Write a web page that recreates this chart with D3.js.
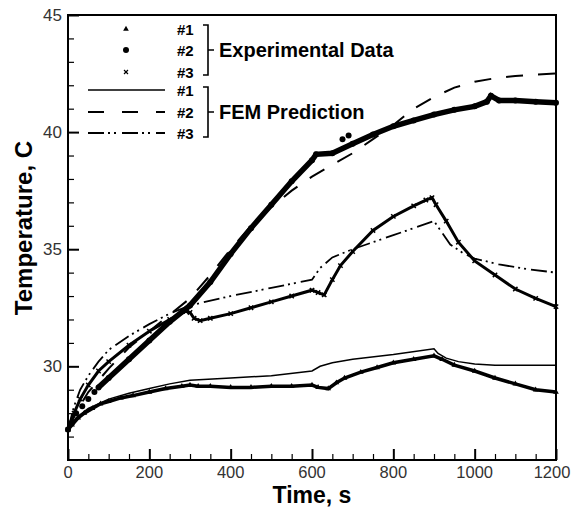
<!DOCTYPE html>
<html>
<head>
<meta charset="utf-8">
<script src="https://cdn.jsdelivr.net/npm/d3@7"></script>
<style>
  body { margin: 0; background: #fff; }
  text { font-family: Arial, "Liberation Sans", sans-serif; }
</style>
</head>
<body>
<script>
// data: [time s, temperature C]
var exp1 = [[0,27.3],[10,27.5],[25,27.8],[40,28.0],[60,28.2],[80,28.4],[100,28.5],[130,28.65],[160,28.75],[200,28.9],[240,29.05],[280,29.15],[300,29.2],[320,29.15],[350,29.15],[400,29.1],[450,29.1],[500,29.15],[550,29.15],[600,29.2],[615,29.1],[640,29.05],[660,29.3],[680,29.5],[720,29.75],[760,29.95],[800,30.15],[850,30.3],[900,30.45],[920,30.3],[950,30.05],[1000,29.8],[1050,29.5],[1100,29.25],[1150,29.0],[1200,28.9]];
var exp2_early = [[0,27.3],[10,27.6],[20,28.0],[35,28.3],[50,28.6],[65,28.9]];
var exp2 = [[75,29.1],[100,29.5],[150,30.3],[200,31.1],[250,31.9],[300,32.6],[350,33.6],[400,34.8],[450,35.9],[500,36.9],[550,37.9],[600,38.8],[610,39.05],[650,39.1],[700,39.5],[750,39.9],[800,40.25],[850,40.5],[900,40.75],[950,40.95],[1000,41.1],[1030,41.3],[1040,41.55],[1060,41.35],[1100,41.35],[1150,41.3],[1200,41.25]];
var exp2_outliers = [[675,39.7],[690,39.85]];
var exp3 = [[0,27.3],[15,28.0],[30,28.6],[50,29.2],[75,29.8],[100,30.2],[150,30.9],[200,31.5],[250,32.0],[290,32.35],[300,32.3],[310,32.05],[325,31.95],[350,32.05],[400,32.25],[450,32.5],[500,32.75],[550,33.0],[600,33.25],[615,33.15],[630,33.05],[650,33.7],[670,34.3],[700,34.9],[750,35.8],[800,36.4],[850,36.85],[880,37.1],[895,37.2],[905,36.9],[930,36.2],[960,35.3],[1000,34.5],[1050,33.9],[1100,33.3],[1150,32.9],[1200,32.55]];
var fem1 = [[0,27.3],[20,27.8],[50,28.2],[100,28.6],[150,28.85],[200,29.05],[250,29.25],[300,29.4],[400,29.5],[500,29.6],[600,29.8],[620,30.0],[650,30.15],[700,30.3],[800,30.5],[900,30.75],[910,30.55],[930,30.35],[960,30.2],[1000,30.1],[1050,30.05],[1200,30.05]];
var fem2 = [[0,27.3],[25,28.2],[50,28.9],[100,29.9],[150,30.8],[200,31.5],[250,32.2],[300,32.9],[350,33.9],[400,35.0],[450,36.0],[500,36.8],[550,37.5],[600,38.1],[650,38.6],[700,39.1],[750,39.7],[800,40.3],[850,41.0],[900,41.5],[950,41.9],[1000,42.15],[1050,42.3],[1100,42.4],[1150,42.45],[1200,42.5]];
var fem3 = [[0,27.3],[15,28.3],[30,29.0],[50,29.6],[75,30.2],[100,30.7],[150,31.3],[200,31.8],[250,32.25],[300,32.6],[400,33.0],[500,33.35],[600,33.7],[620,34.2],[650,34.65],[700,35.0],[750,35.3],[800,35.6],[850,35.9],[900,36.2],[920,35.7],[940,35.2],[970,34.85],[1000,34.6],[1060,34.35],[1130,34.15],[1200,34.0]];
var xTicks = [0,200,400,600,800,1000,1200];
var yTicks = [30,35,40,45];

var W = 580, H = 509;
var plotL = 68, plotR = 556, plotT = 15, plotB = 460;

var svg = d3.select('body').append('svg').attr('width', W).attr('height', H);

var x = d3.scaleLinear().domain([0,1200]).range([plotL, plotR]);
var y = d3.scaleLinear().domain([26,45]).range([plotB, plotT]);

var line = d3.line().x(d => x(d[0])).y(d => y(d[1]));

// frame
svg.append('rect').attr('x', plotL).attr('y', plotT).attr('width', plotR-plotL).attr('height', plotB-plotT)
    .attr('fill', 'none').attr('stroke', '#000').attr('stroke-width', 2);

// ticks pointing inward
var xMinor = d3.range(0, 1201, 50).filter(t => t % 200 != 0);
var yMinor = d3.range(27, 45, 1).filter(t => t % 5 != 0);
svg.append('g').attr('transform', 'translate(0,'+plotB+')')
    .call(d3.axisTop(x).tickValues(xMinor).tickSize(6).tickFormat(''))
    .call(g => g.select('.domain').remove())
    .selectAll('line').attr('stroke-width', 1.2);
svg.append('g').attr('transform', 'translate(0,'+plotB+')')
    .call(d3.axisTop(x).tickValues(xTicks).tickSize(11).tickFormat(''))
    .call(g => g.select('.domain').remove())
    .selectAll('line').attr('stroke-width', 2);
svg.append('g').attr('transform', 'translate('+plotL+',0)')
    .call(d3.axisRight(y).tickValues(yMinor).tickSize(6).tickFormat(''))
    .call(g => g.select('.domain').remove())
    .selectAll('line').attr('stroke-width', 1.2);
svg.append('g').attr('transform', 'translate('+plotL+',0)')
    .call(d3.axisRight(y).tickValues(yTicks).tickSize(11).tickFormat(''))
    .call(g => g.select('.domain').remove())
    .selectAll('line').attr('stroke-width', 2);

// tick labels
svg.selectAll('.xl').data(xTicks).enter().append('text')
    .attr('x', d => d == 1200 ? x(d) - 4 : x(d)).attr('y', 478).attr('text-anchor', 'middle')
    .attr('font-size', 16.5).attr('fill', '#333').text(d => d);
svg.selectAll('.yl').data(yTicks).enter().append('text')
    .attr('x', 62).attr('y', d => y(d) + 6).attr('text-anchor', 'end')
    .attr('font-size', 17).attr('fill', '#333').text(d => d);

// axis titles
svg.append('text').attr('x', (plotL+plotR)/2).attr('y', 503).attr('text-anchor', 'middle')
    .attr('font-size', 23).attr('font-weight', 'bold').text('Time, s');
svg.append('text').attr('transform', 'translate(32,228) rotate(-90)')
    .attr('text-anchor', 'middle').attr('font-size', 24).attr('font-weight', 'bold')
    .text('Temperature, C');

// FEM predictions
svg.append('path').datum(fem1).attr('d', line).attr('fill', 'none')
    .attr('stroke', '#000').attr('stroke-width', 1.5);
svg.append('path').datum(fem2).attr('d', line).attr('fill', 'none')
    .attr('stroke', '#000').attr('stroke-width', 2).attr('stroke-dasharray', '17,15');
svg.append('path').datum(fem3).attr('d', line).attr('fill', 'none')
    .attr('stroke', '#000').attr('stroke-width', 1.8).attr('stroke-dasharray', '16,4,2,4,2,5');

// experimental data (dense markers -> thick line + markers)
svg.append('path').datum(exp1).attr('d', line).attr('fill', 'none')
    .attr('stroke', '#000').attr('stroke-width', 3.5);
svg.append('path').datum(exp3).attr('d', line).attr('fill', 'none')
    .attr('stroke', '#000').attr('stroke-width', 3);
svg.append('path').datum(exp2).attr('d', line).attr('fill', 'none')
    .attr('stroke', '#000').attr('stroke-width', 5.5);

var tri = d3.symbol().type(d3.symbolTriangle).size(14);
var cross = d3.symbol().type(d3.symbolX).size(14);
svg.selectAll('.m1').data(exp1).enter().append('path')
    .attr('transform', d => 'translate('+x(d[0])+','+y(d[1])+')').attr('d', tri).attr('fill', '#000');
svg.selectAll('.m3').data(exp3).enter().append('path')
    .attr('transform', d => 'translate('+x(d[0])+','+y(d[1])+')').attr('d', cross)
    .attr('stroke', '#000').attr('stroke-width', 1.5).attr('fill', 'none');
svg.selectAll('.m2').data(exp2.concat(exp2_early, exp2_outliers)).enter().append('circle')
    .attr('cx', d => x(d[0])).attr('cy', d => y(d[1])).attr('r', 3).attr('fill', '#000');

// legend
var lg = svg.append('g');
lg.append('path').attr('transform', 'translate(126,29)').attr('d', d3.symbol().type(d3.symbolTriangle).size(14)).attr('fill', '#000');
lg.append('circle').attr('cx', 126).attr('cy', 50).attr('r', 3).attr('fill', '#000');
lg.append('path').attr('transform', 'translate(126,72)').attr('d', d3.symbol().type(d3.symbolX).size(12))
    .attr('stroke', '#000').attr('stroke-width', 1.2);
var legY = [90,112,133];
lg.append('line').attr('x1', 88).attr('x2', 165).attr('y1', legY[0]).attr('y2', legY[0]).attr('stroke', '#000').attr('stroke-width', 1.5);
lg.append('line').attr('x1', 88).attr('x2', 165).attr('y1', legY[1]).attr('y2', legY[1]).attr('stroke', '#000').attr('stroke-width', 2).attr('stroke-dasharray', '16,18');
lg.append('line').attr('x1', 88).attr('x2', 165).attr('y1', legY[2]).attr('y2', legY[2]).attr('stroke', '#000').attr('stroke-width', 1.8).attr('stroke-dasharray', '16,4,2,4,2,6');
var legLabels = ['#1','#2','#3'];
[29,50,72].concat(legY).forEach((yy, i) => {
    lg.append('text').attr('x', 177).attr('y', yy + 5.5).attr('font-family', '"Open Sans", sans-serif')
        .attr('font-size', 15).attr('font-weight', 'bold').text(legLabels[i % 3]);
});
function bracket(y0, y1) {
    var ym = (y0 + y1) / 2;
    lg.append('path').attr('d', 'M203,'+y0+'H208V'+y1+'H203M208,'+ym+'H214')
        .attr('fill', 'none').attr('stroke', '#000').attr('stroke-width', 1.6);
}
bracket(25, 75);
bracket(87, 137);
lg.append('text').attr('x', 219).attr('y', 57).attr('font-family', '"Open Sans", sans-serif')
    .attr('font-size', 20).attr('font-weight', 'bold').text('Experimental Data');
lg.append('text').attr('x', 219).attr('y', 119).attr('font-family', '"Open Sans", sans-serif')
    .attr('font-size', 20).attr('font-weight', 'bold').text('FEM Prediction');
</script>
</body>
</html>
